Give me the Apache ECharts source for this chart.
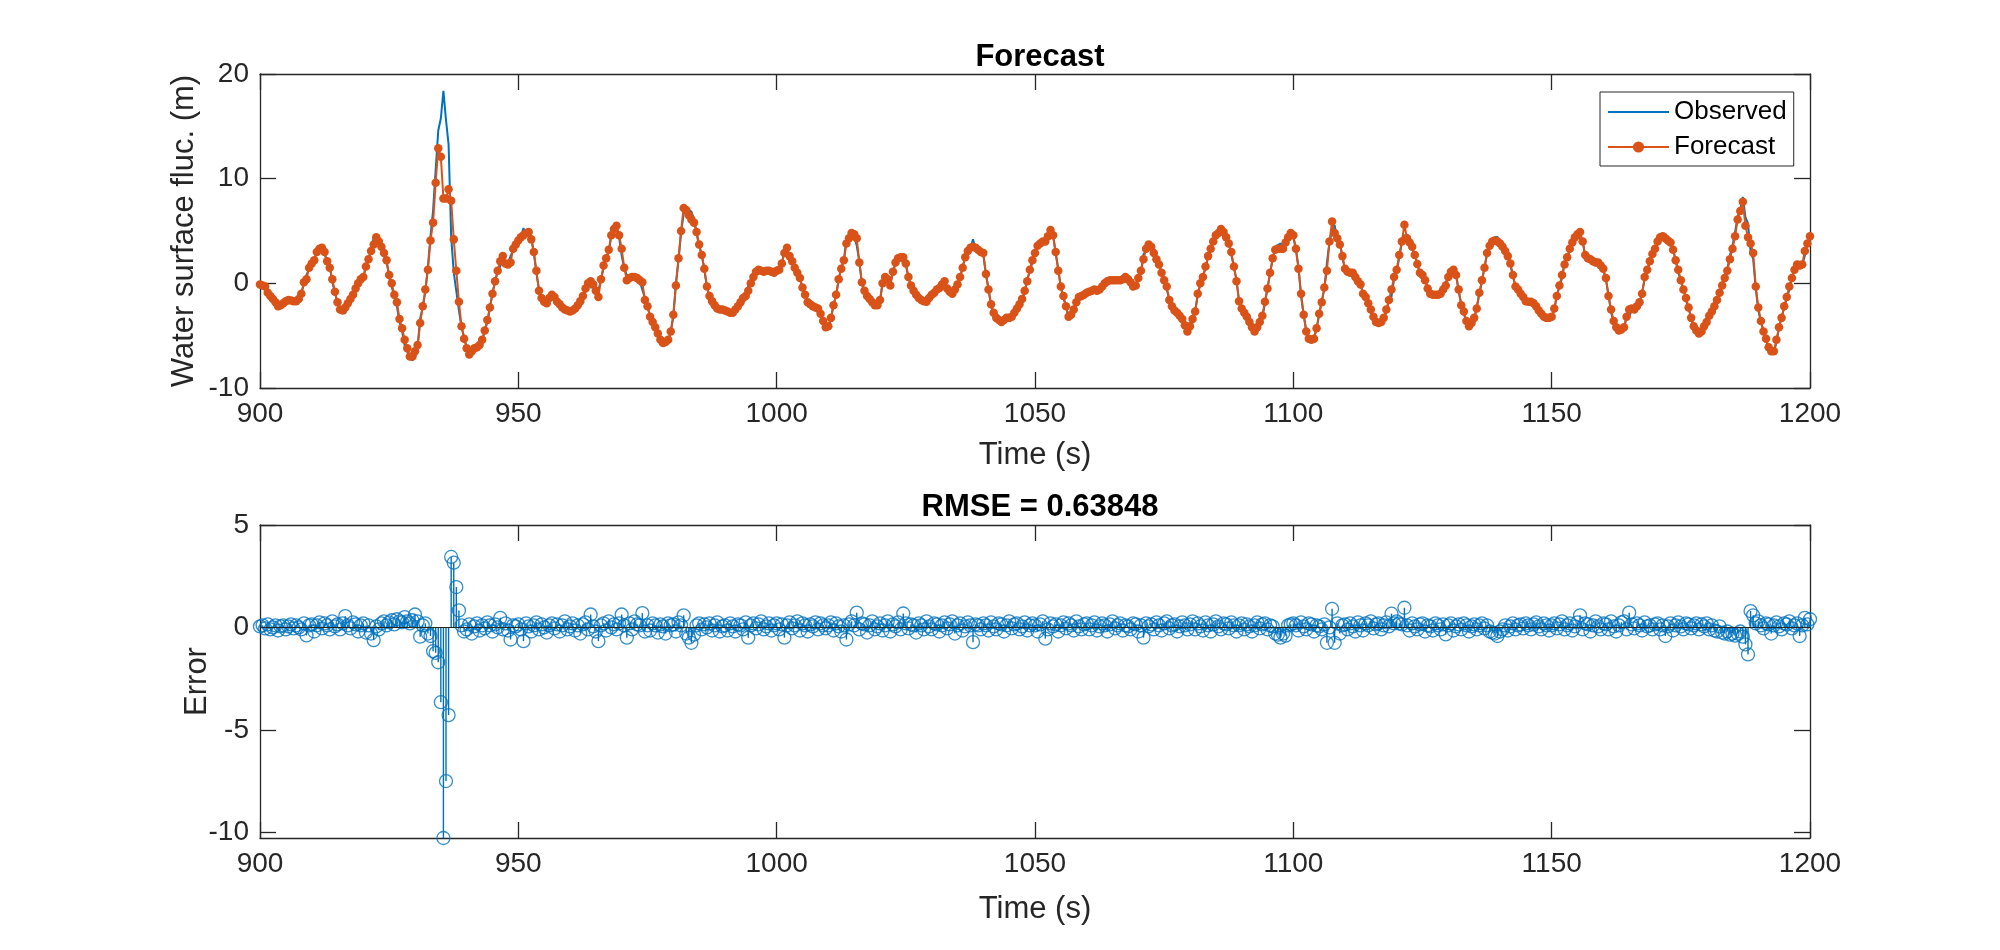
<!DOCTYPE html>
<html>
<head>
  <meta charset="utf-8">
  <title>Forecast</title>
  <style>
    html, body { margin: 0; padding: 0; background: #fff; }
    #main { width: 2000px; height: 950px; }
  </style>
</head>
<body>
<div id="main"></div>
<script src="https://cdn.jsdelivr.net/npm/echarts@6/dist/echarts.min.js"></script>
<script>
let myChart = echarts.init(document.querySelector('#main'))

// time axis: 900 s .. 1200 s, one sample every 0.5 s
const t0 = 900
const dt = 0.5
const errTicks = [-10, -5, 0, 5]

// forecast, one row = 10 s
const forecast = [
  -0.1,-0.2,-0.3,-0.9,-1.2,-1.5,-1.8,-2.2,-2.1,-1.9,-1.7,-1.6,-1.65,-1.7,-1.7,-1.5,-1.0,0.1,0.4,1.5,
  1.9,2.2,3.0,3.3,3.4,3.0,2.1,1.5,0.4,-0.8,-1.8,-2.5,-2.6,-2.3,-1.9,-1.5,-1.1,-0.5,0.0,0.4,
  0.6,1.6,2.3,3.1,3.7,4.4,4.0,3.5,2.9,2.2,0.8,0.0,-1.1,-1.8,-3.4,-4.3,-5.4,-6.2,-7.0,-7.0,
  -6.5,-5.9,-3.8,-2.2,-0.6,1.3,4.1,5.8,9.6,12.9,12.1,8.1,8.1,9.0,7.9,4.2,1.2,-1.75,-4.1,-5.3,
  -6.2,-6.8,-6.5,-6.2,-6.1,-5.9,-5.4,-4.5,-3.5,-2.3,-1.0,0.2,1.2,2.1,2.6,1.9,1.8,2.0,3.3,3.7,
  4.1,4.4,4.6,4.8,4.9,4.2,3.0,1.2,-0.7,-1.4,-1.75,-1.9,-1.4,-1.1,-1.3,-1.75,-2.0,-2.3,-2.5,-2.6,
  -2.7,-2.6,-2.4,-2.1,-1.7,-1.2,-0.5,0.0,0.2,-0.1,-0.7,-1.3,0.4,1.7,2.4,3.2,4.6,5.2,5.5,4.6,
  3.3,1.5,0.3,0.5,0.6,0.6,0.5,0.3,0.1,-1.6,-2.2,-3.2,-3.7,-4.2,-4.8,-5.4,-5.7,-5.6,-5.4,-4.6,
  -3.0,-0.2,2.4,5.0,7.2,7.0,6.5,6.1,5.8,4.9,3.7,2.7,1.4,-0.3,-1.2,-1.7,-2.1,-2.4,-2.5,-2.5,
  -2.6,-2.7,-2.8,-2.8,-2.5,-2.2,-1.8,-1.4,-1.2,-0.7,0.0,0.6,1.1,1.3,1.2,1.1,1.2,1.2,1.1,1.0,
  1.2,1.3,1.9,2.9,3.4,2.6,2.1,1.5,1.0,0.5,-0.4,-1.1,-1.8,-2.0,-2.2,-2.3,-2.4,-2.9,-3.6,-4.2,
  -4.1,-3.3,-2.1,-1.1,0.4,1.4,2.2,3.8,4.3,4.8,4.7,4.3,2.0,0.1,-0.7,-1.2,-1.5,-1.8,-2.1,-2.1,
  -1.6,0.0,0.6,0.4,-0.2,1.1,2.0,2.4,2.5,2.5,1.9,0.6,-0.2,-0.7,-1.1,-1.4,-1.6,-1.7,-1.75,-1.4,
  -1.1,-0.9,-0.6,-0.45,-0.1,0.2,-0.5,-0.8,-1.0,-0.6,-0.1,0.6,1.5,2.5,3.1,3.4,3.5,3.4,3.2,3.0,
  2.9,0.9,-0.6,-2.0,-2.8,-3.3,-3.5,-3.7,-3.5,-3.3,-3.3,-3.2,-2.8,-2.4,-2.0,-1.5,-0.7,0.2,1.3,2.2,
  2.9,3.6,3.8,4.0,4.0,4.5,5.1,4.6,3.0,1.2,-0.3,-1.2,-2.2,-3.2,-3.0,-2.5,-1.8,-1.3,-1.2,-1.1,
  -0.9,-0.8,-0.7,-0.6,-0.7,-0.6,-0.3,0.0,0.2,0.3,0.3,0.3,0.3,0.3,0.4,0.6,0.4,0.1,-0.3,-0.2,
  0.5,1.2,2.3,3.3,3.7,3.5,2.9,2.3,1.8,1.0,0.3,-0.3,-1.6,-2.2,-2.6,-2.8,-3.1,-3.4,-4.0,-4.6,
  -4.1,-3.4,-2.7,-1.0,0.0,0.6,1.6,2.6,3.3,4.0,4.6,4.8,5.2,4.9,4.4,3.8,3.0,1.6,0.2,-1.7,
  -2.4,-2.8,-3.2,-3.7,-4.2,-4.6,-4.2,-3.7,-3.1,-1.75,-0.5,1.0,2.4,3.2,3.3,3.3,3.3,3.9,4.4,4.8,
  4.6,3.3,1.4,-1.0,-3.0,-4.6,-5.3,-5.4,-5.3,-4.3,-2.9,-1.8,-0.4,1.2,4.0,5.9,4.8,4.3,3.7,2.6,
  1.4,1.1,1.0,1.0,0.6,0.2,-0.1,-1.0,-1.3,-1.9,-2.5,-3.2,-3.7,-3.8,-3.7,-3.3,-2.5,-1.6,-0.6,0.6,
  1.3,2.7,4.0,5.6,4.3,3.9,3.5,2.7,1.85,1.0,0.8,0.3,-0.5,-1.0,-1.1,-1.1,-1.1,-1.0,-0.6,-0.2,
  0.6,1.1,1.3,0.8,-0.6,-2.1,-2.7,-3.6,-4.1,-3.8,-3.3,-2.4,-0.9,0.3,1.5,2.9,3.6,4.0,4.1,4.0,
  3.8,3.5,3.1,2.6,1.9,0.8,-0.3,-0.6,-1.0,-1.3,-1.7,-1.75,-1.75,-1.9,-2.2,-2.6,-2.9,-3.2,-3.3,-3.3,
  -3.2,-2.4,-1.2,-0.2,0.8,1.8,2.5,3.3,3.9,4.4,4.7,4.9,4.0,2.7,2.4,2.3,2.1,2.0,2.0,1.7,
  1.4,0.5,-1.2,-2.5,-3.6,-4.2,-4.5,-4.4,-4.2,-3.2,-2.5,-2.4,-2.5,-2.2,-1.8,-1.0,0.6,1.3,2.1,2.8,
  3.3,4.0,4.4,4.5,4.3,4.1,3.9,3.2,2.2,1.3,0.3,-0.6,-1.4,-2.3,-3.3,-4.1,-4.5,-4.8,-4.6,-4.1,
  -3.7,-3.1,-2.7,-2.2,-1.6,-0.9,-0.2,0.5,1.2,2.3,3.3,4.5,6.1,6.9,7.8,5.5,4.4,3.8,2.9,-0.3,
  -2.3,-3.6,-4.6,-5.3,-6.1,-6.5,-6.5,-5.4,-4.2,-3.3,-2.2,-1.3,-0.3,0.5,1.3,1.8,1.7,1.8,3.1,3.8,
  4.5
]

// forecast error (forecast - observed), one row = 10 s
const errors = [
  0.05,0.1,-0.05,0.15,-0.1,0.0,0.1,-0.15,0.05,0.1,-0.1,0.05,0.15,-0.05,0.1,0.0,-0.1,0.2,-0.39,0.1,
  0.15,-0.2,0.1,0.25,-0.05,0.2,0.1,-0.1,0.3,0.05,0.15,-0.1,0.2,0.55,0.1,-0.05,0.25,0.15,-0.2,0.1,
  0.2,-0.25,0.1,-0.3,-0.62,0.05,-0.1,0.2,0.3,0.1,0.25,0.35,0.15,0.4,0.3,0.25,0.5,0.3,0.2,0.35,
  0.63,0.3,-0.45,0.1,0.2,-0.3,-0.42,-1.16,-1.24,-1.7,-3.65,-10.28,-7.5,-4.28,3.44,3.16,1.97,0.83,0.1,-0.2,
  -0.1,0.15,-0.3,0.05,0.2,-0.15,0.1,-0.05,0.25,0.1,-0.2,0.15,0.0,0.47,-0.1,0.2,-0.15,-0.59,0.1,0.05,
  0.15,-0.1,-0.67,0.2,0.05,-0.2,0.1,0.25,-0.1,0.15,0.0,-0.25,0.1,0.2,-0.05,0.15,-0.2,0.1,0.3,-0.1,
  0.05,0.2,-0.15,0.1,-0.3,0.15,0.25,-0.1,0.63,0.05,-0.2,-0.67,0.1,0.2,-0.15,0.3,0.0,0.15,-0.1,0.2,
  0.63,0.1,-0.5,0.2,-0.1,0.3,0.15,0.1,0.7,-0.2,0.1,-0.15,0.2,0.1,-0.25,0.15,0.05,-0.3,0.2,0.1,
  0.15,-0.2,0.25,0.1,0.59,-0.3,-0.5,-0.75,-0.35,0.1,0.2,-0.1,0.15,0.0,0.2,-0.15,0.1,0.25,-0.2,0.05,
  0.1,-0.15,0.2,0.05,-0.2,0.15,0.1,-0.1,0.25,-0.5,0.1,0.2,-0.05,0.15,0.3,-0.1,0.05,0.2,-0.15,0.1,
  0.2,-0.1,0.15,-0.5,0.1,0.25,-0.05,0.1,0.3,-0.15,0.2,0.1,-0.2,0.15,0.05,0.25,-0.1,0.2,0.1,-0.05,
  0.1,0.25,-0.15,0.2,0.05,-0.2,0.1,-0.59,0.15,0.3,0.1,0.72,-0.1,0.2,0.15,-0.25,0.1,0.3,-0.1,0.05,
  0.2,-0.15,0.1,0.3,-0.2,0.15,0.05,0.25,-0.1,0.68,0.2,-0.05,0.15,0.1,-0.25,0.2,0.1,-0.1,0.3,0.05,
  -0.1,0.2,0.15,-0.2,0.1,0.25,-0.05,0.15,0.3,-0.3,0.1,0.2,-0.15,0.05,0.25,0.1,-0.72,0.15,0.1,-0.1,
  0.2,0.1,-0.15,0.25,0.05,-0.1,0.2,0.15,-0.2,0.1,0.3,-0.05,0.15,0.2,-0.1,0.05,0.25,-0.15,0.1,0.2,
  0.1,-0.2,0.15,0.3,-0.55,-0.1,0.2,0.05,0.15,-0.2,0.1,0.25,-0.05,0.2,0.1,-0.15,0.3,0.05,-0.1,0.15,
  0.2,-0.1,0.1,0.25,-0.15,0.05,0.2,0.1,-0.2,0.15,0.3,-0.05,0.1,0.2,-0.15,0.1,0.05,-0.1,0.2,0.15,
  -0.2,0.1,-0.5,0.2,0.05,0.15,-0.1,0.25,0.1,-0.15,0.2,0.3,-0.05,0.1,0.15,-0.2,0.05,0.25,0.1,-0.1,
  0.15,0.3,-0.1,0.2,0.05,-0.15,0.25,0.1,-0.2,0.15,0.3,0.05,-0.1,0.2,0.15,-0.05,0.25,0.1,-0.2,0.1,
  0.2,-0.1,0.15,0.05,-0.2,0.1,0.25,-0.05,0.15,0.2,-0.1,0.1,0.05,-0.3,-0.35,-0.5,-0.3,-0.4,0.1,0.15,
  0.2,0.1,-0.15,0.25,0.05,-0.1,0.2,0.15,-0.2,0.1,0.05,-0.1,0.15,-0.75,0.0,0.91,-0.75,0.2,-0.3,0.1,
  0.15,-0.1,0.2,0.05,-0.2,0.25,0.1,-0.15,0.2,0.1,0.3,-0.05,0.15,0.2,-0.1,0.1,0.25,0.05,0.67,0.2,
  0.3,0.2,0.15,0.96,0.1,-0.15,0.2,0.05,-0.1,0.15,0.2,-0.2,0.1,0.05,-0.15,0.2,0.1,-0.1,0.15,-0.34,
  0.1,0.2,-0.15,0.05,0.15,-0.1,0.2,0.1,-0.2,0.05,0.15,-0.1,0.1,0.2,-0.05,0.1,-0.2,-0.25,-0.3,-0.42,
  -0.2,-0.1,0.1,-0.15,0.05,0.2,-0.1,0.1,0.15,-0.05,0.2,0.1,-0.1,0.15,0.25,0.05,-0.1,0.2,0.1,-0.15,
  0.1,0.2,-0.05,0.15,0.3,-0.1,0.1,0.2,-0.15,0.05,0.25,0.59,-0.1,0.2,0.15,-0.2,0.1,0.3,0.05,-0.1,
  0.2,0.15,-0.1,0.3,0.05,-0.2,0.1,0.25,0.3,-0.1,0.72,0.15,-0.05,0.2,0.1,-0.15,0.25,0.05,0.1,-0.1,
  0.15,0.2,-0.1,0.1,-0.42,0.05,0.2,-0.15,0.1,0.25,0.05,-0.1,0.2,0.15,-0.05,0.1,0.2,-0.1,0.15,0.05,
  0.2,-0.1,0.1,-0.15,-0.2,0.05,-0.25,-0.3,-0.2,-0.35,-0.3,-0.4,-0.3,-0.2,-0.45,-0.83,-1.32,0.8,0.59,0.2,
  0.3,0.1,-0.05,0.2,0.15,-0.3,0.1,0.25,0.05,-0.1,0.2,0.15,0.3,-0.05,0.1,0.2,-0.42,0.1,0.47,0.15,
  0.4
]

// observed = forecast - error
let time = forecast.map((v, i) => t0 + i * dt)
let fcPts = forecast.map((v, i) => [time[i], v])
let obsPts = forecast.map((v, i) => [time[i], +(v - (errors[i] || 0)).toFixed(3)])
let errPts = errors.map((v, i) => [time[i], v])

const axisColor = '#262626'
const font = 'Liberation Sans, Arial, Helvetica, sans-serif'

function xAx(grid, pos, name, gap) {
  return {
    gridIndex: grid, type: 'value', position: pos,
    min: 900, max: 1200, interval: 50,
    name: name, nameLocation: 'middle', nameGap: gap,
    nameTextStyle: { fontSize: 31, color: axisColor, fontFamily: font },
    axisLine: { onZero: false, lineStyle: { color: axisColor, width: 1.3 } },
    axisTick: { inside: true, length: 16, lineStyle: { color: axisColor, width: 1.3 } },
    axisLabel: { show: pos === 'bottom', fontSize: 28, color: axisColor, margin: 12, fontFamily: font,
      formatter: v => String(v) },
    splitLine: { show: false }
  }
}

function yAx(grid, pos, opts) {
  let ax = {
    gridIndex: grid, type: 'value', position: pos,
    nameLocation: 'middle', nameMoveOverlap: false,
    nameTextStyle: { fontSize: 31, color: axisColor, fontFamily: font },
    axisLine: { onZero: false, lineStyle: { color: axisColor, width: 1.3 } },
    axisTick: { inside: true, length: 16, lineStyle: { color: axisColor, width: 1.3 } },
    axisLabel: { show: pos === 'left', fontSize: 28, color: axisColor, margin: 11, fontFamily: font,
      formatter: v => String(v) },
    splitLine: { show: false }
  }
  return Object.assign(ax, opts)
}

let option = {
  animation: false,
  backgroundColor: '#fff',
  textStyle: { fontFamily: font },
  title: [
    { text: 'Forecast', left: 1035, top: 37, textAlign: 'center',
      textStyle: { fontSize: 31, fontWeight: 'bold', color: '#000', fontFamily: font } },
    { text: 'RMSE = 0.63848', left: 1035, top: 487, textAlign: 'center',
      textStyle: { fontSize: 31, fontWeight: 'bold', color: '#000', fontFamily: font } }
  ],
  legend: {
    orient: 'vertical', left: 1600, top: 92,
    data: [
      { name: 'Observed', itemStyle: { opacity: 0 } },
      { name: 'Forecast' }
    ],
    itemWidth: 61, itemHeight: 14, itemGap: 5,
    padding: [5, 7, 4, 7],
    borderColor: axisColor, borderWidth: 1, backgroundColor: '#fff',
    textStyle: { fontSize: 26, color: '#000', lineHeight: 30, fontFamily: font }
  },
  grid: [
    { left: 260, top: 74, width: 1550, height: 314 },
    { left: 260, top: 525, width: 1550, height: 313 }
  ],
  xAxis: [
    xAx(0, 'bottom', 'Time (s)', 52),
    xAx(0, 'top', '', 0),
    xAx(1, 'bottom', 'Time (s)', 56),
    xAx(1, 'top', '', 0)
  ],
  yAxis: [
    yAx(0, 'left', { min: -10, max: 20, interval: 10, name: 'Water surface fluc. (m)', nameGap: 60 }),
    yAx(0, 'right', { min: -10, max: 20, interval: 10 }),
    yAx(1, 'left', { min: -10.28, max: 5, name: 'Error', nameGap: 47 }),
    yAx(1, 'right', { min: -10.28, max: 5 })
  ],
  series: [
    {
      name: 'Observed', type: 'line', xAxisIndex: 0, yAxisIndex: 0,
      data: obsPts, symbol: 'none', showSymbol: false,
      lineStyle: { color: '#0072BD', width: 2 },
      itemStyle: { color: '#0072BD' }
    },
    {
      name: 'Forecast', type: 'line', xAxisIndex: 0, yAxisIndex: 0,
      data: fcPts, symbol: 'circle', symbolSize: 8.5, showSymbol: true,
      lineStyle: { color: '#D95319', width: 2 },
      itemStyle: { color: '#D95319' }
    },
    {
      name: 'stems', type: 'bar', xAxisIndex: 2, yAxisIndex: 2,
      data: errPts, barWidth: 1.4,
      itemStyle: { color: '#0072BD' }
    },
    {
      name: 'Error', type: 'scatter', xAxisIndex: 2, yAxisIndex: 2,
      data: errPts, symbol: 'circle', symbolSize: 13,
      itemStyle: { color: 'rgba(0,0,0,0)', borderColor: '#0072BD', borderWidth: 1.3 },
      markLine: {
        silent: true, symbol: ['none', 'none'], label: { show: false },
        lineStyle: { color: axisColor, width: 1, type: 'solid' },
        data: [{ yAxis: 0 }]
      }
    }
  ]
}

// custom tick positions for the error axis (min is the data minimum)
option.yAxis[2].axisLabel.customValues = errTicks
option.yAxis[2].axisTick.customValues = errTicks
option.yAxis[3].axisTick.customValues = errTicks

myChart.setOption(option)
</script>
</body>
</html>
